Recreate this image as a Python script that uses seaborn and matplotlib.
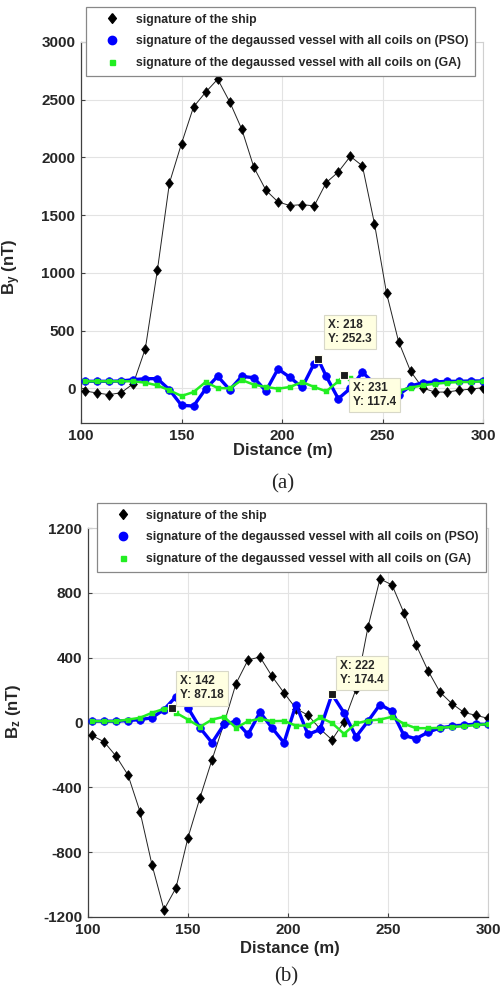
import numpy as np
import pandas as pd
import matplotlib
matplotlib.use("Agg")
import matplotlib.pyplot as plt
from matplotlib.lines import Line2D
import seaborn as sns

# ---------------- data ----------------
# (a) By component
x_ship_a = [102, 108, 114, 120, 126, 132, 138, 144, 150, 156, 162, 168, 174, 180, 186, 192, 198,
            204, 210, 216, 222, 228, 234, 240, 246, 252, 258, 264, 270, 276, 282, 288, 294, 300]
ship_a = [-23, -40, -55, -37, 40, 344, 1023, 1779, 2120, 2438, 2565, 2678, 2481, 2244, 1915, 1716, 1615,
          1583, 1592, 1580, 1782, 1874, 2010, 1927, 1427, 826, 405, 147, 3, -32, -32, -17, -6, 6]

x_pso_a = [102, 108, 114, 120, 126, 132, 138, 144, 150, 156, 162, 168, 174, 180, 186, 192, 198,
           204, 210, 216, 218, 222, 228, 234, 240, 246, 252, 258, 264, 270, 276, 282, 288, 294, 300]
pso_a = [61, 61, 61, 64, 75, 84, 84, -12, -147, -153, -5, 105, -12, 104, 92, -23, 168,
         95, 8, 215, 252.3, 105, -90, 0, 140, 40, -40, -55, 20, 49, 55, 61, 61, 64, 64]

x_ga_a = [102, 108, 114, 120, 126, 132, 138, 144, 150, 156, 162, 168, 174, 180, 186, 192, 198,
          204, 210, 216, 222, 228, 231, 234, 240, 246, 252, 258, 264, 270, 276, 282, 288, 294, 300]
ga_a = [61, 61, 61, 61, 61, 49, 26, -17, -66, -32, 55, 3, 0, 72, 32, 12, -3,
        12, 55, 12, -26, 61, 117.4, 90, 50, 20, 0, -20, 6, 26, 40, 49, 55, 55, 61]

tips_a_x = [218, 231]
tips_a_y = [252.3, 117.4]
tips_a_txt = ["X: 218\nY: 252.3", "X: 231\nY: 117.4"]

# (b) Bz component
x_ship_b = x_ship_a
ship_b = [-80, -119, -207, -324, -550, -878, -1155, -1020, -710, -464, -230, -6, 240, 386, 404, 285, 183,
          86, 45, -39, -107, 5, 205, 589, 886, 849, 675, 480, 320, 187, 116, 62, 44, 26]

x_pso_b = x_ship_a
pso_b = [8, 8, 8, 12, 18, 29, 80, 160, 90, -33, -125, -12, 8, -74, 63, -33, -125,
         111, -74, -43, 174.4, 60, -88, 8, 111, 70, -80, -100, -60, -33, -23, -16, -10, -12]

x_ga_b = [102, 108, 114, 120, 126, 132, 138, 142, 144, 150, 156, 162, 168, 174, 180, 186, 192, 198,
          204, 210, 216, 222, 228, 234, 240, 246, 252, 258, 264, 270, 276, 282, 288, 294, 300]
ga_b = [8, 8, 8, 18, 29, 60, 84, 87.18, 60, 18, -27, 18, 35, -33, 8, 23, 8, 10,
        -20, -18, 31, -3, -70, -6, 12, 18, 35, -8, -35, -35, -33, -27, -23, -16, -10]

tips_b_x = [142, 222]
tips_b_y = [87.18, 174.4]
tips_b_txt = ["X: 142\nY: 87.18", "X: 222\nY: 174.4"]

labels = ["signature of the ship",
          "signature of the degaussed vessel with all coils on (PSO)",
          "signature of the degaussed vessel with all coils on (GA)"]

# ---------------- style ----------------
sns.set_theme(style="whitegrid")
plt.rcParams["font.family"] = ["Liberation Sans", "DejaVu Sans"]
plt.rcParams["mathtext.fontset"] = "custom"
plt.rcParams["mathtext.bf"] = "Liberation Sans:bold"
plt.rcParams["mathtext.rm"] = "Liberation Sans"
plt.rcParams["axes.unicode_minus"] = False

W, H = 500, 992
fig = plt.figure(figsize=(W / 100, H / 100), dpi=100)

diamond = [(0, 1), (0.8, 0), (0, -1), (-0.8, 0), (0, 1)]
SHIP_C, PSO_C, GA_C = "#000000", "#0000ff", "#22ee22"


def px_rect(l, t, r, b):
    return [l / W, 1 - b / H, (r - l) / W, (b - t) / H]


def draw_panel(ax, xs, ys, xp, yp, xg, yg, tx, ty, ttxt, offsets, ylim, yticks, ylabel):
    def mk(x):
        return [i for i, v in enumerate(x) if v % 6 == 0]

    sns.lineplot(x=xs, y=ys, ax=ax, color="#222222", lw=0.7, marker=diamond, ms=7,
                 mfc=SHIP_C, mec=SHIP_C, mew=0.5, markevery=mk(xs), sort=False,
                 estimator=None, zorder=3)
    sns.lineplot(x=xp, y=yp, ax=ax, color=PSO_C, lw=2.4, marker="o", ms=5.5,
                 mfc=PSO_C, mec=PSO_C, mew=0.5, markevery=mk(xp), sort=False,
                 estimator=None, zorder=4)
    sns.lineplot(x=xg, y=yg, ax=ax, color=GA_C, lw=1.8, marker="s", ms=3.6,
                 mfc=GA_C, mec=GA_C, mew=0.3, markevery=mk(xg), sort=False,
                 estimator=None, zorder=5)
    ax.set_xlim(100, 300)
    ax.set_ylim(*ylim)
    ax.set_xticks([100, 150, 200, 250, 300])
    ax.set_yticks(yticks)
    ax.grid(True, color="#e3e3e3", lw=0.8)
    ax.set_facecolor("white")
    for s in ["left", "bottom"]:
        ax.spines[s].set_color("#404040")
        ax.spines[s].set_linewidth(0.9)
    for s in ["top", "right"]:
        ax.spines[s].set_color("#d0d0d0")
        ax.spines[s].set_linewidth(0.8)
    ax.tick_params(axis="both", direction="in", length=3, width=0.8, color="#404040",
                   labelsize=11, pad=4, left=True, bottom=True)
    for lab in ax.get_xticklabels() + ax.get_yticklabels():
        lab.set_fontweight("bold")
    ax.set_xlabel("")
    ax.set_ylabel(ylabel, fontsize=12, fontweight="bold")
    for x, y, t, off in zip(tx, ty, ttxt, offsets):
        ax.plot([x], [y], marker="s", ms=6, color="k", mec="#fffff0", mew=0.8,
                ls="none", zorder=7)
        ax.annotate(t, xy=(x, y), xytext=off[0], textcoords="offset points",
                    ha="left", va=off[1], fontsize=8.5, fontweight="bold",
                    linespacing=1.25, zorder=8,
                    bbox=dict(boxstyle="square,pad=0.35", fc="#ffffe1", ec="#d8d8c8", lw=0.8))


ax1 = fig.add_axes(px_rect(81, 42, 483, 423))
draw_panel(ax1, x_ship_a, ship_a, x_pso_a, pso_a, x_ga_a, ga_a,
           tips_a_x, tips_a_y, tips_a_txt,
           [((7, 10), "bottom"), ((6, -5), "top")],
           (-300, 3000), [0, 500, 1000, 1500, 2000, 2500, 3000],
           r"$\mathbf{B_y}$ (nT)")
ax1.yaxis.set_label_coords((23 - 81) / 402, 0.41)

ax2 = fig.add_axes(px_rect(88, 528, 488, 917))
draw_panel(ax2, x_ship_b, ship_b, x_pso_b, pso_b, x_ga_b, ga_b,
           tips_b_x, tips_b_y, tips_b_txt,
           [((6, 5), "bottom"), ((6, 6), "bottom")],
           (-1200, 1200), [-1200, -800, -400, 0, 400, 800, 1200],
           r"$\mathbf{B_z}$ (nT)")
ax2.yaxis.set_label_coords((23 - 88) / 400, 0.53)

fig.text(283 / W, 1 - 450 / H, "Distance (m)", ha="center", va="center",
         fontsize=12, fontweight="bold")
fig.text(290 / W, 1 - 948 / H, "Distance (m)", ha="center", va="center",
         fontsize=12, fontweight="bold")
fig.text(283 / W, 1 - 484 / H, "(a)", ha="center", va="center", fontsize=15,
         family=["Liberation Serif", "DejaVu Serif"])
fig.text(286 / W, 1 - 977 / H, "(b)", ha="center", va="center", fontsize=15,
         family=["Liberation Serif", "DejaVu Serif"])

handles = [
    Line2D([], [], ls="none", marker=diamond, ms=7, color=SHIP_C),
    Line2D([], [], ls="none", marker="o", ms=6, color=PSO_C),
    Line2D([], [], ls="none", marker="s", ms=3.6, color=GA_C),
]
for anchor in [(86, 7), (97, 503)]:
    leg = fig.legend(handles, labels, loc="upper left",
                     bbox_to_anchor=(anchor[0] / W, 1 - anchor[1] / H),
                     frameon=True, fancybox=False, framealpha=1, edgecolor="#888888",
                     prop={"size": 8.8, "weight": "bold"}, handlelength=3.2,
                     handletextpad=0.3, borderpad=0.55, labelspacing=0.78,
                     borderaxespad=0)
    leg.get_frame().set_linewidth(0.9)

fig.savefig("out.png", dpi=100)
